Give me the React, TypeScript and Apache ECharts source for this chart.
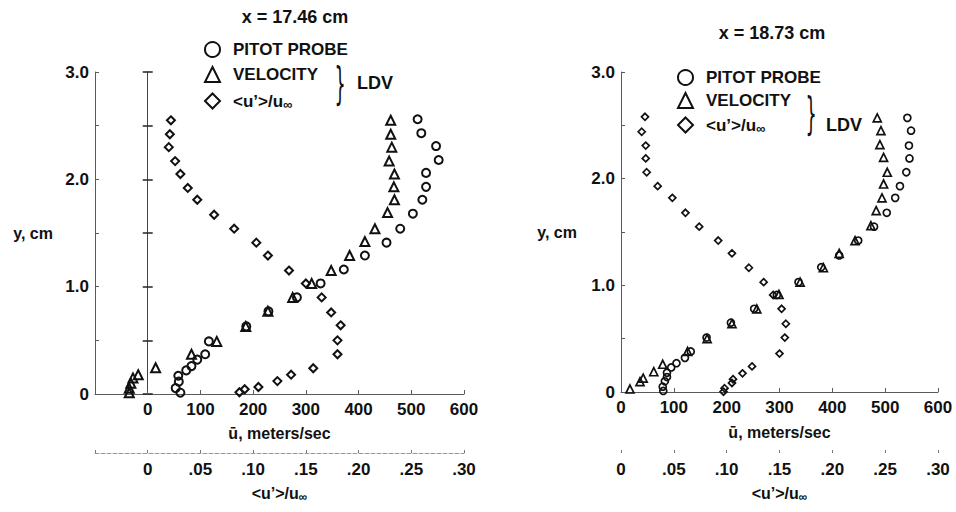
import React, { useEffect, useRef } from 'react';
import * as echarts from 'echarts';

// ---------- texts ----------
const panelTitles = ['x = 17.46 cm', 'x = 18.73 cm'];
const seriesNames = ['PITOT PROBE', 'VELOCITY', '<u’>/u∞'];
const bracketLabel = 'LDV';
const yAxisName = 'y, cm';
const uAxisName = 'ū, meters/sec';
const uPrimeAxisName = '{a|<u’>/u}{s|∞}';

// ---------- tick labels ----------
const yTickLabels = ['0', '', '1.0', '', '2.0', '', '3.0']; // 0 .. 3.0 step 0.5
const leftUTickLabels = ['', '0', '100', '200', '300', '400', '500', '600']; // -100 .. 600
const rightUTickLabels = ['0', '100', '200', '300', '400', '500', '600']; // 0 .. 600
const leftUPrimeTickLabels = ['', '0', '.05', '.10', '.15', '.20', '.25', '.30']; // -0.05 .. 0.30
const rightUPrimeTickLabels = ['0', '.05', '.10', '.15', '.20', '.25', '.30']; // 0 .. 0.30

// ---------- data: x = 17.46 cm ----------
// [u (m/s), y (cm)]
const leftPitot: [number, number][] = [
  [512, 2.56], [519, 2.43], [547, 2.31], [552, 2.18], [528, 2.06], [528, 1.93],
  [521, 1.81], [503, 1.68], [479, 1.54], [453, 1.41], [412, 1.29], [372, 1.16],
  [328, 1.03], [283, 0.9], [229, 0.77], [187, 0.63], [116, 0.49], [109, 0.37],
  [94, 0.32], [83, 0.26], [73, 0.22], [58, 0.17], [59, 0.115], [53, 0.055], [62, 0.012],
];
const leftVelocity: [number, number][] = [
  [461, 2.55], [461, 2.42], [463, 2.3], [458, 2.17], [468, 2.05], [467, 1.93],
  [468, 1.81], [455, 1.69], [431, 1.54], [412, 1.42], [383, 1.29], [348, 1.15],
  [311, 1.03], [275, 0.9], [228, 0.77], [186, 0.63], [131, 0.49], [83, 0.37],
  [15, 0.245], [-18, 0.18], [-28, 0.15], [-32, 0.1], [-35, 0.053], [-35, 0.012],
];
// [<u'>/u∞, y (cm)]
const leftFluct: [number, number][] = [
  [0.022, 2.55], [0.021, 2.42], [0.02, 2.3], [0.026, 2.17], [0.031, 2.05], [0.038, 1.92],
  [0.047, 1.81], [0.063, 1.67], [0.082, 1.54], [0.103, 1.41], [0.114, 1.29], [0.134, 1.15],
  [0.15, 1.03], [0.165, 0.9], [0.174, 0.76], [0.183, 0.64], [0.18, 0.5], [0.18, 0.37],
  [0.157, 0.24], [0.136, 0.18], [0.123, 0.12], [0.105, 0.065], [0.092, 0.044], [0.087, 0.016],
];

// ---------- data: x = 18.73 cm ----------
const rightPitot: [number, number][] = [
  [542, 2.57], [549, 2.45], [545, 2.31], [546, 2.19], [540, 2.06], [528, 1.93],
  [519, 1.82], [503, 1.68], [479, 1.55], [449, 1.42], [413, 1.28], [379, 1.17],
  [336, 1.03], [295, 0.91], [252, 0.78], [208, 0.65], [162, 0.51], [132, 0.38],
  [121, 0.32], [105, 0.27], [95, 0.23], [87, 0.18], [87, 0.14], [83, 0.1], [79, 0.05], [80, 0.01],
];
const rightVelocity: [number, number][] = [
  [485, 2.57], [492, 2.45], [490, 2.32], [497, 2.2], [504, 2.06], [497, 1.95],
  [494, 1.82], [483, 1.7], [473, 1.56], [443, 1.42], [413, 1.3], [383, 1.165],
  [339, 1.03], [299, 0.915], [257, 0.78], [210, 0.64], [163, 0.5], [126, 0.38],
  [79, 0.26], [62, 0.19], [42, 0.13], [36, 0.097], [17, 0.028],
];
const rightFluct: [number, number][] = [
  [0.0227, 2.58], [0.0196, 2.44], [0.0234, 2.31], [0.0234, 2.19], [0.0243, 2.06], [0.0347, 1.93],
  [0.0486, 1.82], [0.061, 1.68], [0.074, 1.55], [0.092, 1.42], [0.105, 1.3], [0.121, 1.165],
  [0.135, 1.03], [0.144, 0.91], [0.152, 0.78], [0.156, 0.64], [0.155, 0.51], [0.15, 0.36],
  [0.124, 0.24], [0.115, 0.175], [0.106, 0.12], [0.105, 0.085], [0.098, 0.035], [0.097, 0.003],
];

// ---------- styling ----------
const INK = '#111111';
const AXIS = '#5a5a5a';
const FONT = '"Liberation Sans", Arial, Helvetica, sans-serif';

const labelFrom = (labels: string[], min: number, step: number) => (v: number) => {
  const i = Math.round((v - min) / step);
  return labels[i] ?? '';
};

const boldText = (size = 16) => ({
  color: INK,
  fontSize: size,
  fontWeight: 'bold' as const,
  fontFamily: FONT,
});

const makeRich = (size: number) => ({
  a: { ...boldText(size), lineHeight: 20 },
  s: { ...boldText(size - 4), lineHeight: 20, verticalAlign: 'bottom' as const, padding: [7, 0, 0, 0] },
});

function scatter(
  name: string,
  xAxisIndex: number,
  yAxisIndex: number,
  symbol: string,
  size: number,
  bw: number,
  data: [number, number][],
) {
  return {
    type: 'scatter',
    name,
    xAxisIndex,
    yAxisIndex,
    symbol,
    symbolSize: size,
    data,
    silent: true,
    itemStyle: { color: 'rgba(0,0,0,0)', borderColor: INK, borderWidth: bw, opacity: 1 },
    emphasis: { disabled: true },
  };
}

function uAxis(gridIndex: number, min: number, labels: string[], nameGap: number) {
  return {
    type: 'value',
    gridIndex,
    min,
    max: 600,
    interval: 100,
    position: 'bottom',
    axisLine: { onZero: false, lineStyle: { color: AXIS, width: 1 } },
    axisTick: { inside: true, length: 4, lineStyle: { color: AXIS } },
    splitLine: { show: false },
    axisLabel: { ...boldText(17), margin: 7, formatter: labelFrom(labels, min, 100) },
    name: uAxisName,
    nameLocation: 'middle',
    nameGap,
    nameTextStyle: boldText(16),
  };
}

function uPrimeAxis(gridIndex: number, min: number, labels: string[], offset: number, showLine: boolean) {
  return {
    type: 'value',
    gridIndex,
    min,
    max: 0.3,
    interval: 0.05,
    position: 'bottom',
    offset,
    axisLine: { show: showLine, onZero: false, lineStyle: { color: '#9a9a9a', width: 1, type: 'dashed' } },
    axisTick: { show: true, inside: true, length: 3, lineStyle: { color: '#777' } },
    splitLine: { show: false },
    axisLabel: { ...boldText(17), margin: 8, formatter: labelFrom(labels, min, 0.05) },
    name: uPrimeAxisName,
    nameLocation: 'middle',
    nameGap: 30,
    nameTextStyle: { ...boldText(16), rich: makeRich(16) },
  };
}

function yAxisMain(gridIndex: number, nameGap: number) {
  return {
    type: 'value',
    gridIndex,
    min: 0,
    max: 3,
    interval: 0.5,
    position: 'left',
    axisLine: { onZero: false, lineStyle: { color: AXIS, width: 1 } },
    axisTick: { inside: true, length: 4, lineStyle: { color: AXIS } },
    splitLine: { show: false },
    axisLabel: { ...boldText(17), margin: 6, formatter: labelFrom(yTickLabels, 0, 0.5) },
    name: yAxisName,
    nameLocation: 'middle',
    nameRotate: 0,
    nameGap,
    nameTextStyle: boldText(16),
  };
}

function yAxisZeroLine(inside: boolean) {
  return {
    type: 'value',
    gridIndex: 0,
    min: 0,
    max: 3,
    interval: 0.5,
    position: 'left',
    axisLine: { onZero: true, onZeroAxisIndex: 0, lineStyle: { color: '#444', width: 1 } },
    axisTick: { inside, length: 5, lineStyle: { color: '#222', width: 1.5 } },
    axisLabel: { show: false },
    splitLine: { show: false },
  };
}

function legend(left: number, top: number, gap: number) {
  return {
    orient: 'vertical',
    left,
    top,
    itemWidth: 15,
    itemHeight: 15,
    itemGap: gap,
    selectedMode: false,
    data: seriesNames,
    itemStyle: { color: 'rgba(0,0,0,0)', borderColor: INK, borderWidth: 2 },
    textStyle: { ...boldText(17), padding: [0, 0, 0, 8], rich: makeRich(17) },
    formatter: (n: string) => (n === seriesNames[2] ? uPrimeAxisName : n),
  };
}

export default function App() {
  const ref = useRef<HTMLDivElement>(null);

  useEffect(() => {
    if (!ref.current) return;
    const chart = echarts.init(ref.current, undefined, { renderer: 'svg' });
    const option = {
      animation: false,
      backgroundColor: '#ffffff',
      grid: [
        { left: 95, top: 72, width: 369, height: 322 },
        { left: 621, top: 72, width: 317, height: 320 },
      ],
      xAxis: [
        uAxis(0, -100, leftUTickLabels, 31),
        uPrimeAxis(0, -0.05, leftUPrimeTickLabels, 59, true),
        uAxis(1, 0, rightUTickLabels, 32),
        uPrimeAxis(1, 0, rightUPrimeTickLabels, 61, false),
      ],
      yAxis: [yAxisMain(0, 42), yAxisZeroLine(true), yAxisZeroLine(false), yAxisMain(1, 44)],
      legend: [legend(199, 36, 8), legend(672, 64, 6)],
      series: [
        scatter(seriesNames[0], 0, 0, 'circle', 8, 2, leftPitot),
        scatter(seriesNames[1], 0, 0, 'triangle', 9, 2, leftVelocity),
        scatter(seriesNames[2], 1, 0, 'diamond', 8, 2, leftFluct),
        scatter(seriesNames[0], 2, 3, 'circle', 7, 1.7, rightPitot),
        scatter(seriesNames[1], 2, 3, 'triangle', 8, 1.7, rightVelocity),
        scatter(seriesNames[2], 3, 3, 'diamond', 7, 1.7, rightFluct),
      ],
      graphic: [
        { type: 'text', x: 295, y: 17, style: { text: panelTitles[0], align: 'center', verticalAlign: 'middle', fill: INK, font: `bold 18px ${FONT}` } },
        { type: 'text', x: 772, y: 33, style: { text: panelTitles[1], align: 'center', verticalAlign: 'middle', fill: INK, font: `bold 18px ${FONT}` } },
        { type: 'text', x: 340, y: 84, scaleX: 0.4, style: { text: '}', align: 'center', verticalAlign: 'middle', fill: INK, font: `normal 44px "DejaVu Sans", sans-serif` } },
        { type: 'text', x: 357, y: 83, style: { text: bracketLabel, align: 'left', verticalAlign: 'middle', fill: INK, font: `bold 18px ${FONT}` } },
        { type: 'text', x: 811, y: 114, scaleX: 0.4, style: { text: '}', align: 'center', verticalAlign: 'middle', fill: INK, font: `normal 44px "DejaVu Sans", sans-serif` } },
        { type: 'text', x: 826, y: 125, style: { text: bracketLabel, align: 'left', verticalAlign: 'middle', fill: INK, font: `bold 18px ${FONT}` } },
      ],
    };
    chart.setOption(option as any);
    return () => chart.dispose();
  }, []);

  return (
    <div
      ref={ref}
      style={{ position: 'absolute', left: 0, top: 0, width: 956, height: 512, background: '#fff' }}
    />
  );
}
